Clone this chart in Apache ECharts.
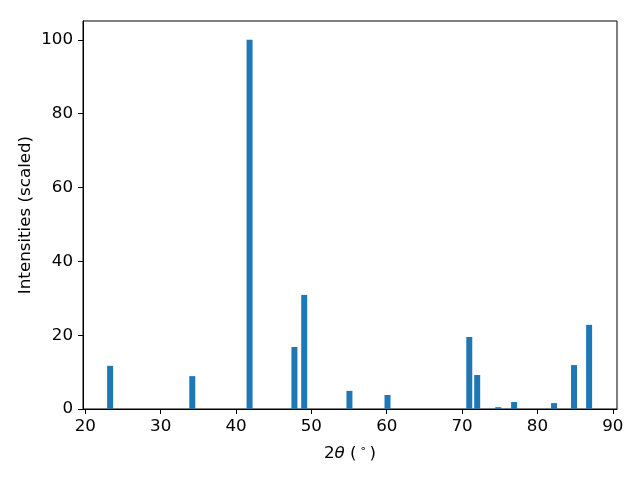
<!DOCTYPE html>
<html><head><meta charset="utf-8">
<script src="https://cdn.jsdelivr.net/npm/echarts@6/dist/echarts.min.js"></script>
<style>html,body{margin:0;padding:0;background:#fff}#c{width:640px;height:480px}</style>
</head><body><div id="c"></div>
<script>
const angles = [23.3, 34.2, 41.8, 47.75, 49.05, 55.05, 60.1, 70.95, 72.0, 74.8, 76.9, 82.2, 84.85, 86.85];
const intensities = [11.7, 8.9, 100, 16.8, 30.9, 4.9, 3.8, 19.5, 9.2, 0.5, 1.9, 1.6, 11.9, 22.8];
const xTicks = [20, 30, 40, 50, 60, 70, 80, 90];
const yTicks = [0, 20, 40, 60, 80, 100];

const chart = echarts.init(document.getElementById('c'), null, {renderer: 'canvas'});
const font = 'DejaVu Sans';
const fs = 16.7;
chart.setOption({
  animation: false,
  backgroundColor: '#fff',
  grid: {left: 83, right: 23, top: 21, bottom: 71, show: true, borderColor: '#000', borderWidth: 1, containLabel: false},
  xAxis: {
    type: 'value', min: 19.7, max: 90.55,
    name: '{n|2}{i|θ}{n| (}{s|∘}{n|)}',
    nameLocation: 'middle', nameGap: 35,
    nameTextStyle: {rich: {
      n: {fontFamily: font, fontSize: fs, color: '#000'},
      i: {fontFamily: font, fontSize: fs, fontStyle: 'italic', color: '#000'},
      s: {fontFamily: font, fontSize: 11, color: '#000', verticalAlign: 'top', padding: [0, 3, 9, 3]}
    }},
    axisLine: {show: true, onZero: false, lineStyle: {color: '#000', width: 1}},
    axisTick: {show: true, length: 5, inside: false, customValues: xTicks, lineStyle: {color: '#000'}},
    axisLabel: {customValues: xTicks, margin: 9, color: '#000', fontFamily: font, fontSize: fs},
    splitLine: {show: false}
  },
  yAxis: {
    type: 'value', min: 0, max: 105.1,
    name: 'Intensities (scaled)', nameLocation: 'middle', nameGap: 49,
    nameMoveOverlap: false,
    nameTextStyle: {fontFamily: font, fontSize: fs, color: '#000'},
    axisLine: {show: true, lineStyle: {color: '#000', width: 1}},
    axisTick: {show: true, length: 5, customValues: yTicks, lineStyle: {color: '#000'}},
    axisLabel: {customValues: yTicks, margin: 10, color: '#000', fontFamily: font, fontSize: fs},
    splitLine: {show: false}
  },
  series: [{
    type: 'bar',
    data: angles.map((a, i) => [a, intensities[i]]),
    barWidth: 6,
    itemStyle: {color: '#1f77b4'}
  }]
});
</script></body></html>
